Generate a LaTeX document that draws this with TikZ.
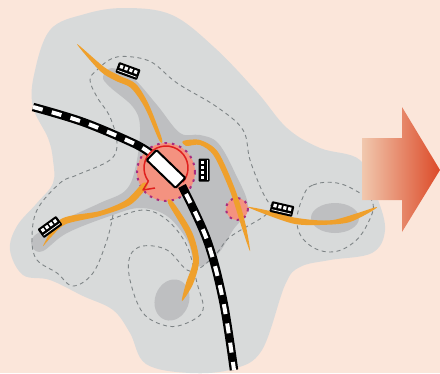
\documentclass[tikz,border=0pt]{standalone}
\usetikzlibrary{shadings}
\definecolor{bgc}{HTML}{FBE6DA}
\definecolor{lightg}{HTML}{D8DADA}
\definecolor{darkg}{HTML}{BEBFC1}
\definecolor{orng}{HTML}{EFA02C}
\definecolor{pinkc}{HTML}{F49280}
\definecolor{redc}{HTML}{E0201E}
\definecolor{purp}{HTML}{A82C80}
\definecolor{dashc}{HTML}{7E8486}
\definecolor{arrL}{HTML}{F1C8AE}
\definecolor{arrR}{HTML}{DC4A28}
\tikzset{
  route/.style={draw=dashc,line width=0.9pt,dash pattern=on 4pt off 3.5pt},
  orangeband/.style={fill=orng},
  railbase/.style={draw=black,line width=8.5pt},
  railtop/.style={draw=white,line width=4pt,dash pattern=on 10pt off 9.5pt},
  zonefill/.style={fill=pinkc},
  zoneedge/.style={draw=purp,line width=2pt,dash pattern=on 2.5pt off 5pt},
}
\newcommand{\busicon}[3]{%
  \begin{scope}[shift={(#1,#2)},rotate=#3]
    \fill[black,rounded corners=1pt] (-11.5,-5.5) rectangle (11.5,5.5);
    \foreach \wx in {-7.5,-2.5,2.5,7.5}{\fill[white] (\wx-1.6,-3.4) rectangle (\wx+1.6,0);}
    \fill[white] (-10,2.6) rectangle (10,3.3);
  \end{scope}}
\begin{document}
\begin{tikzpicture}[x=1pt,y=-1pt]
\useasboundingbox (0,0) rectangle (440,373);
\fill[bgc] (0,0) rectangle (440,373);
% territory
\fill[lightg] plot[smooth cycle,tension=0.6] coordinates {
 (34,75) (50,30) (85,14) (125,8) (172,15) (215,48) (257,92) (287,128) (320,148) (360,160)
 (377,197) (385,230) (372,253) (330,260) (300,267) (285,285) (262,350) (233,369) (190,373)
 (146,364) (130,333) (113,310) (83,296) (50,280) (23,275) (10,250) (17,226) (37,203) (53,183)
 (53,160) (48,138) (33,107)};
% dense areas
\fill[darkg] plot[smooth cycle,tension=0.6] coordinates {
 (103,77) (112,68) (133,78) (157,105) (180,133) (200,135) (218,143) (235,173) (248,207)
 (233,230) (217,255) (197,266) (187,240) (167,216) (140,208) (110,216) (67,233) (43,251) (33,248)
 (34,236) (63,220) (100,203) (126,190) (136,165) (140,127) (133,107) (110,87)};
\fill[darkg,rotate around={-20:(172,300)}] (172,300) ellipse (17 and 21);
\fill[darkg] (335,218) ellipse (24 and 15);
% routes
\draw[route] plot[smooth,tension=0.6] coordinates {
 (113,215) (107,240) (93,273) (73,286) (57,273) (37,260) (32,240) (37,210) (60,183) (77,175) (110,160) (117,143)
 (110,117) (97,97) (90,80) (97,70) (113,58) (133,57) (153,63) (177,83) (217,107) (243,130) (250,160) (263,193) (272,207)};
\draw[route] plot[smooth,tension=0.6] coordinates {
 (110,220) (143,210) (167,220) (187,246) (197,283) (203,310) (187,323) (167,326) (143,313) (130,280) (130,256)
 (143,246) (167,250) (187,270) (200,268) (217,253) (230,237) (263,217) (272,207)};
\draw[route] plot[smooth cycle,tension=0.7] coordinates {
 (303,197) (313,185) (337,183) (360,193) (373,203) (368,223) (353,243) (330,252) (307,243) (297,223)};
% zones
\fill[zonefill] (166,172) circle (29);
\draw[zoneedge] (166,172) circle (29);
\fill[zonefill] (237,209) circle (11);
\draw[zoneedge] (237,209) circle (11);
% transit bands
\fill[orangeband] plot[smooth cycle,tension=0.5] coordinates {
 (77,44) (104,67) (120,76) (136,84) (149,105) (162,139) (159,140) (145,108) (131,88) (116,81) (100,71)};
\fill[orangeband] plot[smooth cycle,tension=0.5] coordinates {
 (43,246) (61,219) (100,211) (126,200) (143,183) (147,187) (130,205) (100,216) (66,224) (52,236)};
\fill[orangeband] plot[smooth cycle,tension=0.5] coordinates {
 (168,203) (173,202) (192,232) (199,260) (193,284) (182,301) (186,283) (193,260) (186,234)};
\fill[orangeband] plot[smooth cycle,tension=0.5] coordinates {
 (183,141) (200,140) (218,152) (235,189) (245,222) (250,251) (241,225) (230,191) (214,156) (200,145) (186,146)};
\fill[orangeband] plot[smooth cycle,tension=0.5] coordinates {
 (248,207) (270,211) (297,218) (333,220) (377,207) (350,222) (320,225) (295,224) (270,216)};
% rail
\draw[railbase] plot[smooth,tension=0.6] coordinates {(33,107) (83,122) (133,143) (150,153)};
\draw[railtop] plot[smooth,tension=0.6] coordinates {(33,107) (83,122) (133,143) (150,153)};
\draw[railbase] plot[smooth,tension=0.6] coordinates {(182,186) (207,240) (223,300) (234,370)};
\draw[railtop] plot[smooth,tension=0.6] coordinates {(186,194) (207,240) (223,300) (234,370)};
% station
\draw[redc,line width=1.5pt] (166,168) ++(143:22) arc[start angle=143,end angle=400,radius=22];
\draw[redc,line width=1.5pt,line join=round] (148.4,181.2) -- (143,190) -- (155,188);
\draw[black,fill=white,line width=2pt,rounded corners=1pt,rotate around={-44:(166,169)}] (146,162) rectangle (186,176);
% buses
\busicon{128}{71}{-20}
\busicon{204}{170}{90}
\busicon{282}{209}{-13}
\busicon{50}{227}{36}
% arrow
\shade[left color=arrL,right color=arrR,shading=axis,shading angle=90]
 (362,138) -- (402,138) -- (402,107) -- (440,170) -- (402,232) -- (402,200) -- (362,200) -- cycle;
\end{tikzpicture}
\end{document}
